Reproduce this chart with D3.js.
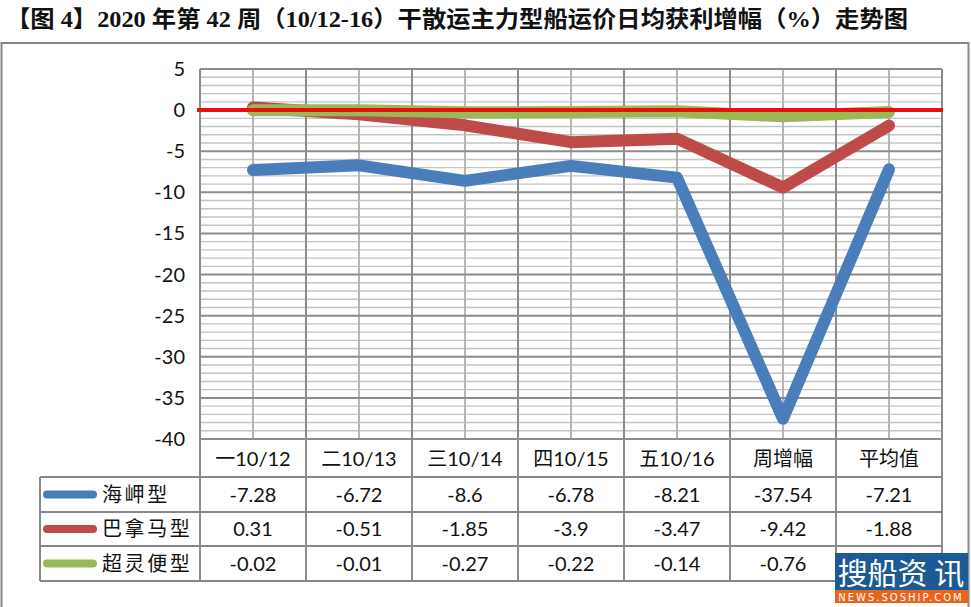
<!DOCTYPE html>
<html>
<head>
<meta charset="utf-8">
<script src="https://cdn.jsdelivr.net/npm/d3@7"></script>
<style>
  body { margin: 0; background: #fff; }
  svg { display: block; }
</style>
</head>
<body>
<svg id="chart" width="971" height="607"></svg>
<script>
const title = "【图 4】2020 年第 42 周（10/12-16）干散运主力型船运价日均获利增幅（%）走势图";
const categories = ["一10/12", "二10/13", "三10/14", "四10/15", "五10/16", "周增幅", "平均值"];
const seriesNames = ["海岬型", "巴拿马型", "超灵便型"];
const capesize = [-7.28, -6.72, -8.6, -6.78, -8.21, -37.54, -7.21];
const panamax = [0.31, -0.51, -1.85, -3.9, -3.47, -9.42, -1.88];
// last value is covered by the watermark in the source, estimated from the line
const supramax = [-0.02, -0.01, -0.27, -0.22, -0.14, -0.76, -0.23];
const yTicks = [5, 0, -5, -10, -15, -20, -25, -30, -35, -40];
const colors = ["#4a7ebb", "#be4b48", "#98b954"];

const series = seriesNames.map((name, i) => ({
  name,
  values: [capesize, panamax, supramax][i],
  color: colors[i]
}));

const svg = d3.select("#chart");
const plotLeft = 200, plotRight = 942, plotTop = 69, plotBottom = 439;
const rowH = [477, 512, 546, 581];
const tableLeft = 40;

const x = d3.scaleBand().domain(categories).range([plotLeft, plotRight]);
const y = d3.scaleLinear().domain([-40, 5]).range([plotBottom, plotTop]);
const cx = d => x(d) + x.bandwidth() / 2;

const cjk = "'Noto Sans CJK SC', sans-serif";
const num = "Lato, 'Noto Sans CJK SC', sans-serif";

// title
svg.append("text")
  .attr("x", 6).attr("y", 27)
  .attr("font-family", "'Liberation Serif', 'Noto Sans CJK SC', serif")
  .attr("font-weight", "bold")
  .attr("font-size", 23)
  .attr("fill", "#111")
  .attr("textLength", 902)
  .attr("lengthAdjust", "spacingAndGlyphs")
  .text(title);

// outer frame
svg.append("rect")
  .attr("x", 1.5).attr("y", 43).attr("width", 967).attr("height", 620)
  .attr("fill", "none").attr("stroke", "#878787").attr("stroke-width", 2);

// grid: minor horizontal lines
const g = svg.append("g");
g.selectAll("line.minor")
  .data(d3.range(-40, 6).filter(v => v % 5 !== 0))
  .join("line")
  .attr("x1", plotLeft).attr("x2", plotRight)
  .attr("y1", d => y(d)).attr("y2", d => y(d))
  .attr("stroke", "#c4c4c4").attr("stroke-width", 1.4);

// vertical lines at category centres
g.selectAll("line.vc")
  .data(categories)
  .join("line")
  .attr("x1", cx).attr("x2", cx)
  .attr("y1", plotTop).attr("y2", plotBottom)
  .attr("stroke", "#b4b4b4").attr("stroke-width", 2);

// major horizontal lines
g.selectAll("line.major")
  .data(yTicks)
  .join("line")
  .attr("x1", plotLeft).attr("x2", plotRight)
  .attr("y1", d => y(d)).attr("y2", d => y(d))
  .attr("stroke", "#8c8c8c").attr("stroke-width", 2);

// category boundaries (continue down through the table)
g.selectAll("line.vb")
  .data(categories.concat(["end"]))
  .join("line")
  .attr("x1", (d, i) => plotLeft + i * x.bandwidth())
  .attr("x2", (d, i) => plotLeft + i * x.bandwidth())
  .attr("y1", plotTop).attr("y2", rowH[3])
  .attr("stroke", "#8c8c8c").attr("stroke-width", 2);

// y tick labels
svg.append("g").selectAll("text")
  .data(yTicks)
  .join("text")
  .attr("x", 185).attr("y", d => y(d) + 7)
  .attr("text-anchor", "end")
  .attr("font-family", num)
  .attr("font-size", 20)
  .attr("fill", "#111")
  .text(d => String(d));

// data lines
const line = d3.line()
  .x((d, i) => cx(categories[i]))
  .y(d => y(d));

svg.append("g").selectAll("path")
  .data(series)
  .join("path")
  .attr("d", d => line(d.values))
  .attr("fill", "none")
  .attr("stroke", d => d.color)
  .attr("stroke-width", 12)
  .attr("stroke-linecap", "round")
  .attr("stroke-linejoin", "round");

// zero line
svg.append("line")
  .attr("x1", plotLeft - 3).attr("x2", plotRight + 1)
  .attr("y1", y(0)).attr("y2", y(0))
  .attr("stroke", "#e8100c").attr("stroke-width", 4);

// data table
const t = svg.append("g");
t.selectAll("line.row")
  .data(rowH)
  .join("line")
  .attr("x1", tableLeft).attr("x2", plotRight)
  .attr("y1", d => d).attr("y2", d => d)
  .attr("stroke", "#878787").attr("stroke-width", 2);
t.append("line")
  .attr("x1", tableLeft).attr("x2", tableLeft)
  .attr("y1", rowH[0]).attr("y2", rowH[3])
  .attr("stroke", "#878787").attr("stroke-width", 2);

// header
t.selectAll("text.head")
  .data(categories)
  .join("text")
  .attr("x", cx).attr("y", 466)
  .attr("text-anchor", "middle")
  .attr("font-family", num)
  .attr("font-size", 20)
  .attr("fill", "#111")
  .text(d => d);

// rows
series.forEach((s, r) => {
  const yc = (rowH[r] + rowH[r + 1]) / 2;
  t.append("line")
    .attr("x1", 47).attr("x2", 93)
    .attr("y1", yc).attr("y2", yc)
    .attr("stroke", s.color).attr("stroke-width", 8)
    .attr("stroke-linecap", "round");
  t.append("text")
    .attr("x", 102).attr("y", yc + 7)
    .attr("font-family", cjk)
    .attr("font-size", 20)
    .attr("letter-spacing", 2.6)
    .attr("fill", "#111")
    .text(s.name);
  // the watermark hides the last cell of the bottom row
  const shown = r === 2 ? s.values.slice(0, -1) : s.values;
  t.selectAll(null)
    .data(shown)
    .join("text")
    .attr("x", (d, i) => cx(categories[i]))
    .attr("y", yc + 7)
    .attr("text-anchor", "middle")
    .attr("font-family", num)
    .attr("font-size", 20)
    .attr("fill", "#111")
    .text(d => String(d));
});

// watermark
const wm = svg.append("g");
wm.append("rect").attr("x", 835).attr("y", 553).attr("width", 133).attr("height", 50).attr("fill", "#1b5a92");
wm.append("rect").attr("x", 835).attr("y", 590).attr("width", 133).attr("height", 13).attr("fill", "#e8641c");
wm.append("text")
  .attr("x", 901).attr("y", 584)
  .attr("text-anchor", "middle")
  .attr("font-family", cjk)
  .attr("font-size", 30)
  .attr("fill", "#fff")
  .text("搜船资 讯");
wm.append("text")
  .attr("x", 901).attr("y", 600.5)
  .attr("text-anchor", "middle")
  .attr("font-family", "'DejaVu Sans', sans-serif")
  .attr("font-size", 10)
  .attr("letter-spacing", 2)
  .attr("fill", "#fff")
  .text("NEWS.SOSHIP.COM");
</script>
</body>
</html>
